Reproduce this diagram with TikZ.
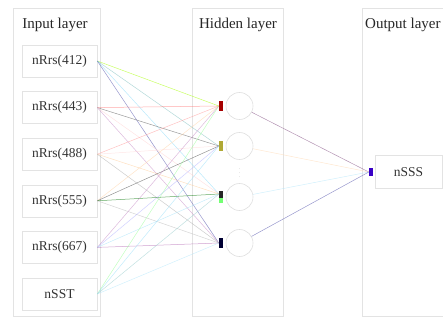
\documentclass[tikz,border=0pt]{standalone}
\usepackage{fontspec}
\setmainfont{Liberation Serif}
\usepackage{tikz}
\usetikzlibrary{positioning}

\begin{document}
\begin{tikzpicture}[x=1pt,y=-1pt,
	panel/.style={draw=gray!22, line width=0.6pt, minimum width=#1, minimum height=308pt, inner sep=0pt},
	unit/.style={draw=gray!22, line width=0.6pt, minimum width=75pt, minimum height=32pt, inner sep=0pt, text=black!80, font=\fontsize{13.5}{15}\selectfont},
	neuron/.style={circle, draw=gray!25, line width=0.6pt, minimum size=27pt, inner sep=0pt},
	tip/.style={fill=#1, minimum width=3.5pt, minimum height=10pt, inner sep=0pt},
	title/.style={text=black!85, font=\fontsize{15}{17}\selectfont},
	wire/.style={draw=#1, line width=0.5pt, opacity=0.6}]
	\useasboundingbox (0,0) rectangle (443,320);
	
	\node[panel=87pt] (pin) at (56.5,162) {};
	\node[panel=91pt] (phid) at (237.5,162) {};
	\node[panel=100pt] (pout) at (412,162) {};
	
	\node[title] (tin) at (55,25) {Input layer};
	\node[title] (thid) at (238,25) {Hidden layer};
	\node[title,anchor=west,inner sep=1pt] (tout) at (364,25) {Output layer};
	
	\node[unit] (x1) at (59.5,61) {nRrs(412)};
	\node[unit] (x2) [below = 14pt of x1] {nRrs(443)};
	\node[unit] (x3) [below = 14pt of x2] {nRrs(488)};
	\node[unit] (x4) [below = 14pt of x3] {nRrs(555)};
	\node[unit] (x5) [below = 14pt of x4] {nRrs(667)};
	\node[unit] (x6) [below = 14pt of x5] {nSST};
	
	\node[neuron] (h1) at (239.5,106) {};
	\node[neuron] (h2) at (239.5,146) {};
	\node[neuron] (h3) at (239.5,197) {};
	\node[neuron] (h4) at (239.5,243) {};
	\node[text=gray!70, font=\tiny] (dots) at (239.5,170) {$\vdots$};
	
	\node[tip=red!65!black] (m1) [left = 3pt of h1] {};
	\node[tip=olive!70] (m2) [left = 3pt of h2] {};
	\node[tip=black!85, minimum height=7pt] (m3) at (221,194) {};
	\node[tip=green!55, minimum height=5pt] (m3g) [below = 0pt of m3] {};
	\node[tip=black!80!blue] (m4) [left = 3pt of h4] {};
	
	\node[unit, minimum width=67pt, minimum height=33pt] (y) at (408.5,172) {nSSS};
	\node[tip=blue!55!violet, minimum height=8pt] (mo) [left = 2pt of y] {};
	
	% input -> hidden
	\foreach \i/\ca/\cb/\cc/\cd in {
		1/green!35!yellow/teal!50/cyan!45/blue!35!gray,
		2/red!55/gray!70!black/pink!70/violet!45,
		3/red!40/pink!65/orange!40/gray!65,
		4/orange!35/gray!60!black/green!45!black/gray!55,
		5/violet!45/blue!30/cyan!35/violet!60,
		6/green!40/cyan!40/teal!40/cyan!30}
	{
		\foreach \j/\c in {1/\ca,2/\cb,3/\cc,4/\cd}
			\draw[wire=\c] (x\i.east) -- (m\j.west);
	}
	
	% hidden -> output
	\draw[wire=violet!40!gray] (h1) -- (mo.west);
	\draw[wire=orange!30] (h2) -- (mo.west);
	\draw[wire=cyan!30] (h3) -- (mo.west);
	\draw[wire=blue!35!gray] (h4) -- (mo.west);
\end{tikzpicture}
\end{document}
